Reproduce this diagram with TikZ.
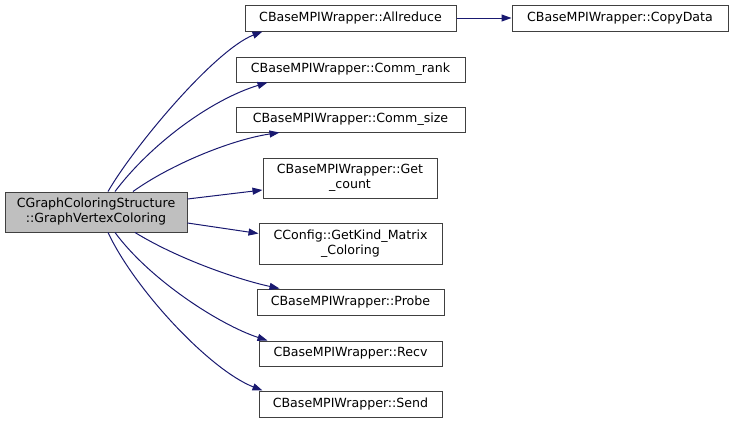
\documentclass[tikz,border=0pt]{standalone}
\usepackage{fontspec}
\setmainfont{DejaVu Sans}
\usetikzlibrary{arrows.meta}
\definecolor{edgeblue}{HTML}{191970}
\definecolor{boxline}{HTML}{404040}
\definecolor{rootfill}{HTML}{BFBFBF}
\tikzset{
  fn/.style={draw=boxline, line width=1pt, fill=white, inner sep=0pt, align=center,
    font=\fontsize{12.6}{15}\selectfont},
  rootfn/.style={fn, fill=rootfill},
  call/.style={draw=edgeblue, line width=1pt, -{Triangle[length=10pt,width=7pt]}, fill=none}
}
\begin{document}
\begin{tikzpicture}[x=1pt,y=-1pt]
\useasboundingbox (0,0) rectangle (733,423);
\node[rootfn, minimum width=182pt, minimum height=40pt] (main) at (96,212) {CGraphColoringStructure\\::GraphVertexColoring};
\node[fn, minimum width=211pt, minimum height=26pt] (allr) at (350.5,18) {CBaseMPIWrapper::Allreduce};
\node[fn, minimum width=216pt, minimum height=26pt] (copy) at (620,18) {CBaseMPIWrapper::CopyData};
\node[fn, minimum width=229pt, minimum height=25pt] (rank) at (350.5,69.5) {CBaseMPIWrapper::Comm\_rank};
\node[fn, minimum width=229pt, minimum height=25pt] (size) at (350.5,119.5) {CBaseMPIWrapper::Comm\_size};
\node[fn, minimum width=174pt, minimum height=40pt] (getc) at (350,178) {CBaseMPIWrapper::Get\\\_count};
\node[fn, minimum width=183pt, minimum height=41pt] (kind) at (350.5,243.5) {CConfig::GetKind\_Matrix\\\_Coloring};
\node[fn, minimum width=187pt, minimum height=26pt] (probe) at (350.5,302) {CBaseMPIWrapper::Probe};
\node[fn, minimum width=183pt, minimum height=25pt] (recv) at (350.5,353.5) {CBaseMPIWrapper::Recv};
\node[fn, minimum width=183pt, minimum height=26pt] (send) at (350.5,404) {CBaseMPIWrapper::Send};

\draw[call] ([xshift=12pt]main.north) .. controls (135,145) and (215,50) .. ([xshift=18pt]allr.south west);
\draw[call] ([xshift=19pt]main.north) .. controls (150,145) and (210,100) .. ([xshift=32pt]rank.south west);
\draw[call] ([xshift=37pt]main.north) .. controls (170,165) and (230,140) .. ([xshift=44pt]size.south west);
\draw[call] ([yshift=13pt]main.east) -- ([yshift=-12pt]getc.west);
\draw[call] ([yshift=-11pt]main.east) -- ([yshift=10pt]kind.west);
\draw[call] ([xshift=39pt]main.south) .. controls (180,260) and (240,280) .. ([xshift=23pt]probe.north west);
\draw[call] ([xshift=19pt]main.south) .. controls (150,280) and (220,325) .. ([xshift=9pt]recv.north west);
\draw[call] ([xshift=12pt]main.south) .. controls (135,290) and (210,370) .. ([xshift=4pt]send.north west);
\draw[call] (allr.east) -- (copy.west);
\end{tikzpicture}
\end{document}
